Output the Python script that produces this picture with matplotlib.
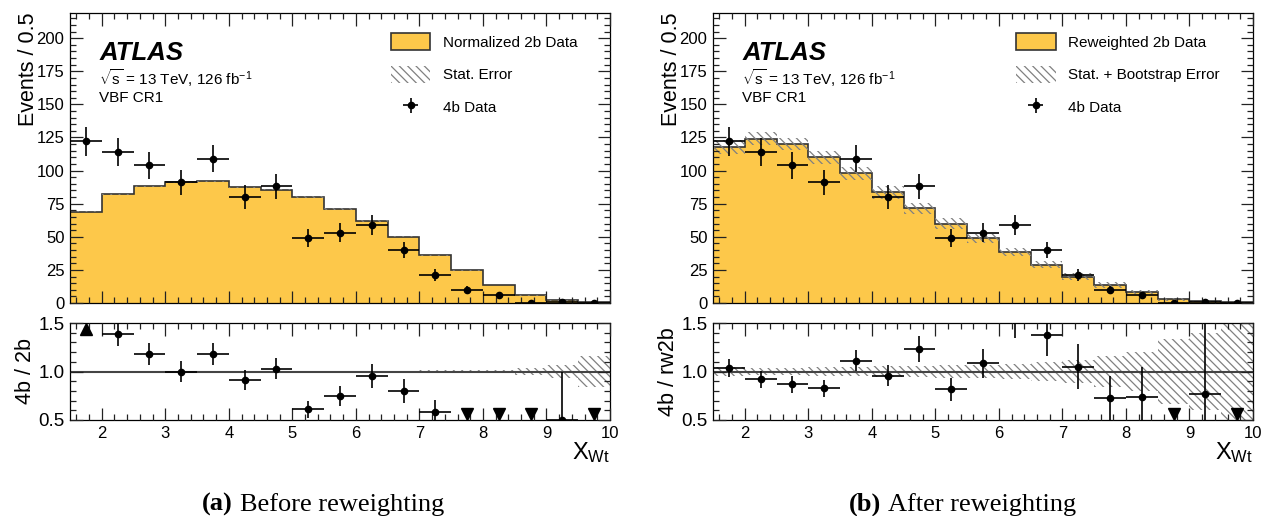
import numpy as np
import matplotlib
matplotlib.use("Agg")
import matplotlib.pyplot as plt
from matplotlib.patches import Patch
from matplotlib.ticker import MultipleLocator, FormatStrFormatter

plt.rcParams["font.family"] = ["Liberation Sans", "DejaVu Sans"]
plt.rcParams["mathtext.fontset"] = "custom"
plt.rcParams["mathtext.rm"] = "Liberation Sans"
plt.rcParams["mathtext.it"] = "Liberation Sans:italic"
plt.rcParams["mathtext.bf"] = "Liberation Sans:bold"
plt.rcParams["hatch.linewidth"] = 0.9
plt.rcParams["axes.linewidth"] = 0.9
plt.rcParams["axes.axisbelow"] = False

# X_Wt binning (0.5 wide bins)
bin_edges = [1.5, 2.0, 2.5, 3.0, 3.5, 4.0, 4.5, 5.0, 5.5, 6.0,
             6.5, 7.0, 7.5, 8.0, 8.5, 9.0, 9.5, 10.0]

# observed 4b events per bin
data_4b = [122, 114, 104, 91, 109, 80, 88, 49, 53, 59, 40, 21, 10, 6, 0, 1, 0]

# normalised 2b prediction and its relative stat. error
norm_2b = [69, 82, 88, 91, 92, 87.5, 85.5, 80, 71, 62, 50, 36, 24.7, 13.6, 5.8, 2.0, 0.5]
norm_2b_relerr = [0.005, 0.005, 0.005, 0.005, 0.005, 0.005, 0.005, 0.006, 0.007,
                  0.008, 0.01, 0.012, 0.015, 0.02, 0.035, 0.07, 0.155]

# reweighted 2b prediction and its relative stat. + bootstrap error
rw_2b = [118, 124, 120, 110, 98, 83.5, 71.4, 60, 48.8, 38.2, 29, 20, 13.8, 8.1, 2.8, 1.3, 0.5]
rw_2b_relerr = [0.045, 0.04, 0.04, 0.045, 0.05, 0.055, 0.06, 0.065, 0.07,
                0.08, 0.1, 0.12, 0.155, 0.2, 0.33, 0.4, 0.6]

YELLOW = "#fdc84a"
LINE = "#333333"
HATCH = "\\\\\\\\"
HATCH_COL = "#808080"
W, H = 1264, 516


def style_axes(ax, ratio=False):
    ax.set_xlim(1.5, 10)
    ax.xaxis.set_major_locator(MultipleLocator(1))
    ax.xaxis.set_minor_locator(MultipleLocator(0.2))
    ax.tick_params(which="both", direction="in", top=True, right=True,
                   labelsize=12, pad=4, width=0.9, color="#222222")
    ax.tick_params(which="major", length=9)
    ax.tick_params(which="minor", length=4.5)
    if ratio:
        ax.set_ylim(0.5, 1.5)
        ax.yaxis.set_major_locator(MultipleLocator(0.5))
        ax.yaxis.set_minor_locator(MultipleLocator(0.1))
        ax.yaxis.set_major_formatter(FormatStrFormatter("%.1f"))
        ax.tick_params(axis="y", labelsize=13.5)
    else:
        ax.set_ylim(0, 219)
        ax.yaxis.set_major_locator(MultipleLocator(25))
        ax.yaxis.set_minor_locator(MultipleLocator(5))
        ax.tick_params(labelbottom=False)


def draw_panel(ax, axr, bkg, bkg_relerr, bkg_label, err_label, ratio_label, leg_x):
    edges = np.array(bin_edges)
    centres = 0.5 * (edges[:-1] + edges[1:])
    widths = np.diff(edges)
    half = 0.5 * widths
    data = np.array(data_4b, dtype=float)
    bkg = np.array(bkg, dtype=float)
    relerr = np.array(bkg_relerr)
    err = bkg * relerr

    # main panel
    ax.stairs(bkg, edges, fill=True, color=YELLOW, zorder=1)
    ax.stairs(bkg, edges, color=LINE, lw=1.2, zorder=1.3)
    ax.bar(centres, 2 * err, width=widths, bottom=bkg - err, fill=False,
           hatch=HATCH, edgecolor=HATCH_COL, linewidth=0, zorder=1.5)
    eb = ax.errorbar(centres, data, xerr=half, yerr=np.sqrt(data), fmt="o",
                     color="black", ms=4.5, elinewidth=1.2, capsize=0, zorder=3,
                     label="4b Data")
    style_axes(ax)
    ax.set_ylabel("Events / 0.5", fontsize=15.5, loc="top")
    ax.yaxis.set_label_coords(-0.058, 1.0)

    ax.text(0.054, 0.838, "ATLAS", fontsize=18.5, fontweight="bold",
            fontstyle="italic", transform=ax.transAxes)
    ax.text(0.054, 0.752, r"$\sqrt{\mathrm{s}}$ = 13 TeV, 126 fb$^{-1}$",
            fontsize=11, transform=ax.transAxes)
    ax.text(0.054, 0.694, "VBF CR1", fontsize=11, transform=ax.transAxes)

    handles = [Patch(facecolor=YELLOW, edgecolor=LINE, lw=1.2, label=bkg_label),
               Patch(facecolor="none", edgecolor=HATCH_COL, hatch=HATCH, lw=0,
                     label=err_label),
               eb]
    ax.legend(handles=handles, loc="upper left", bbox_to_anchor=(leg_x, 0.93),
              frameon=False, fontsize=11, handlelength=2.6, handleheight=1.3,
              labelspacing=1.05, handletextpad=0.8, borderpad=0, borderaxespad=0)

    # ratio panel
    ratio = data / bkg
    rerr = np.sqrt(data) / bkg
    axr.bar(centres, 2 * relerr, width=widths, bottom=1 - relerr, fill=False,
            hatch=HATCH, edgecolor=HATCH_COL, linewidth=0, zorder=1)
    axr.axhline(1.0, color="#444444", lw=1.5, zorder=2)
    up = ratio - rerr > 1.5
    down = ratio < 0.5
    ok = ~(up | down)
    axr.errorbar(centres[ok], ratio[ok], xerr=half[ok], yerr=rerr[ok], fmt="o",
                 color="black", ms=4.5, elinewidth=1.2, capsize=0, zorder=3)
    axr.plot(centres[up], np.full(up.sum(), 1.44), "^", color="black", ms=8, zorder=3)
    axr.plot(centres[down], np.full(down.sum(), 0.56), "v", color="black", ms=8, zorder=3)
    style_axes(axr, ratio=True)
    axr.set_ylabel(ratio_label, fontsize=15.5)
    axr.yaxis.set_label_coords(-0.063, 0.5)
    axr.set_xlabel(r"X$_{\mathrm{Wt}}$", fontsize=17, loc="right", labelpad=0)


fig = plt.figure(figsize=(W / 100, H / 100), dpi=100)

ax_a = fig.add_axes([70 / W, 1 - 303 / H, 540 / W, 290 / H])
axr_a = fig.add_axes([70 / W, 1 - 420 / H, 540 / W, 97 / H])
ax_b = fig.add_axes([713 / W, 1 - 303 / H, 540 / W, 290 / H])
axr_b = fig.add_axes([713 / W, 1 - 420 / H, 540 / W, 97 / H])

draw_panel(ax_a, axr_a, norm_2b, norm_2b_relerr, "Normalized 2b Data",
           "Stat. Error", "4b / 2b", 0.594)
draw_panel(ax_b, axr_b, rw_2b, rw_2b_relerr, "Reweighted 2b Data",
           "Stat. + Bootstrap Error", "4b / rw2b", 0.561)

# sub-figure captions
cap_y = 1 - 511 / H
fig.text(233 / W, cap_y, "(a)", fontsize=19, fontweight="bold",
         family="Liberation Serif", ha="right", va="baseline")
fig.text(240 / W, cap_y, "Before reweighting", fontsize=19,
         family="Liberation Serif", ha="left", va="baseline")
fig.text(881 / W, cap_y, "(b)", fontsize=19, fontweight="bold",
         family="Liberation Serif", ha="right", va="baseline")
fig.text(888 / W, cap_y, "After reweighting", fontsize=19,
         family="Liberation Serif", ha="left", va="baseline")

fig.savefig("out.png", dpi=100)
